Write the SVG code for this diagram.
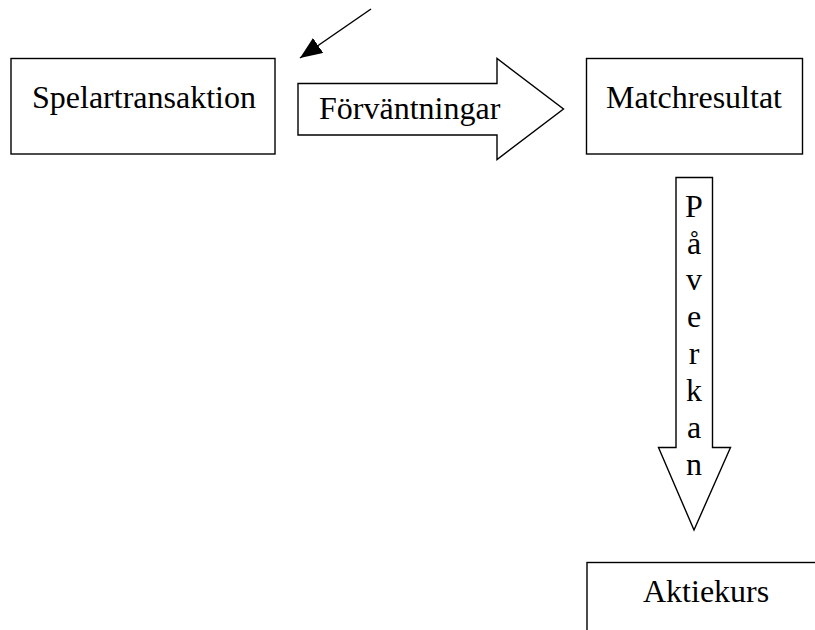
<svg xmlns="http://www.w3.org/2000/svg" width="815" height="630" viewBox="0 0 815 630">
<style>
.box{fill:#fff;stroke:#000;stroke-width:1.4}
.t{font-family:"Liberation Serif","Times New Roman",serif;font-size:32px;fill:#000}
.c{text-anchor:middle}
</style>
<defs>
<marker id="ah" markerWidth="24" markerHeight="20" refX="22" refY="9" orient="auto" markerUnits="userSpaceOnUse">
<path d="M0,0 L22,9 L0,18 Z" fill="#000"/>
</marker>
</defs>
<rect width="815" height="630" fill="#fff"/>
<g id="connectors">
<line x1="371" y1="9" x2="300" y2="58" stroke="#000" stroke-width="1.5" marker-end="url(#ah)"/>
</g>
<g id="spelartransaktion">
<rect class="box" x="11" y="58.5" width="264" height="95.5"/>
<text class="t" x="32" y="108">Spelartransaktion</text>
</g>
<g id="forvantningar">
<path class="box" d="M298,83.5 L497,83.5 L497,58.5 L563.5,109 L497,159.5 L497,135 L298,135 Z"/>
<text class="t" x="319" y="119">Förväntningar</text>
</g>
<g id="matchresultat">
<rect class="box" x="586.5" y="58.5" width="216" height="95.5"/>
<text class="t c" x="694" y="108">Matchresultat</text>
</g>
<g id="paverkan">
<path class="box" d="M676,177.5 L712.5,177.5 L712.5,447.5 L730.5,447.5 L694,530 L658.5,447.5 L676,447.5 Z"/>
<text class="t c" x="694" y="217">P</text>
<text class="t c" x="694" y="254">å</text>
<text class="t c" x="694" y="290">v</text>
<text class="t c" x="694" y="327">e</text>
<text class="t c" x="694" y="364">r</text>
<text class="t c" x="694" y="401">k</text>
<text class="t c" x="694" y="438">a</text>
<text class="t c" x="694" y="475">n</text>
</g>
<g id="aktiekurs">
<rect class="box" x="587" y="562.5" width="260" height="100"/>
<text class="t" x="643" y="602">Aktiekurs</text>
</g>
</svg>
